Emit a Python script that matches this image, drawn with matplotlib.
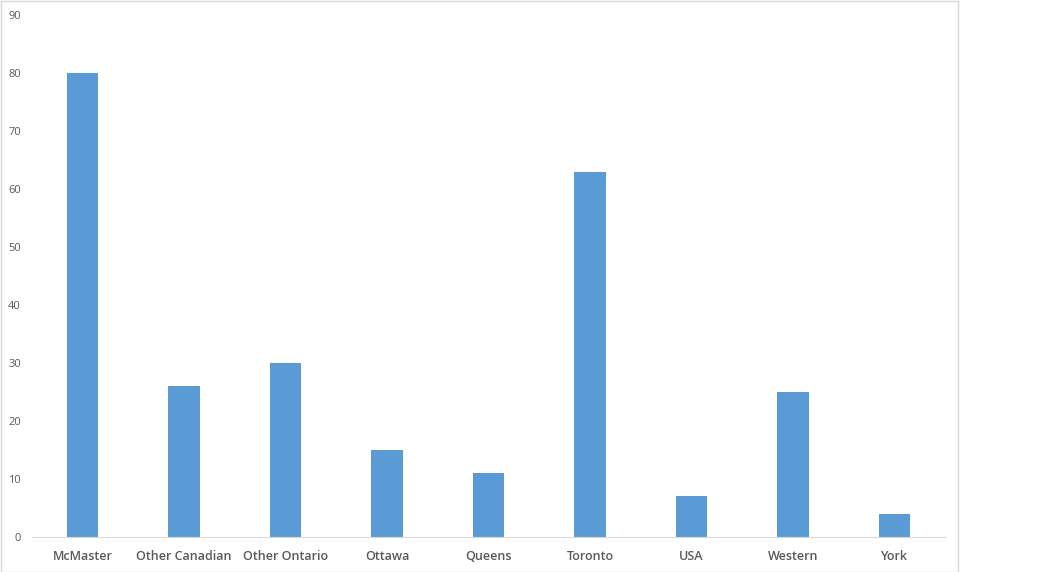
import matplotlib
matplotlib.use("Agg")
from matplotlib import pyplot as plt
from matplotlib.patches import Rectangle

schools = ["McMaster", "Other Canadian", "Other Ontario", "Ottawa", "Queens",
           "Toronto", "USA", "Western", "York"]
counts = [80, 26, 30, 15, 11, 63, 7, 25, 4]
yticks = [0, 10, 20, 30, 40, 50, 60, 70, 80, 90]

plt.rcParams['font.family'] = ['Open Sans', 'DejaVu Sans']

W, H = 1040, 572
fig = plt.figure(figsize=(W / 100, H / 100), dpi=100)
fig.patches.append(Rectangle((0.5 / W, 0.5 / H), 957 / W, (H - 1.5) / H,
                             transform=fig.transFigure, fill=False,
                             edgecolor="#d9d9d9", linewidth=1))

ax = fig.add_axes([32 / W, 1 - 537 / H, (945 - 32) / W, (537 - 15) / H])
x = range(len(schools))
ax.bar(x, counts, width=0.31, color="#5b9bd5")
ax.set_xlim(-0.5, len(schools) - 0.5)
ax.set_ylim(0, 90)
ax.set_yticks(yticks)
ax.set_xticks(list(x))
ax.set_xticklabels(schools, fontsize=9, color="#595959", fontweight="semibold")
ax.tick_params(axis="y", length=0, pad=8, labelsize=8, labelcolor="#595959")
ax.tick_params(axis="x", length=0, pad=9)
for s in ["top", "right", "left"]:
    ax.spines[s].set_visible(False)
ax.spines["bottom"].set_color("#d9d9d9")

fig.savefig("out.png", dpi=100)
